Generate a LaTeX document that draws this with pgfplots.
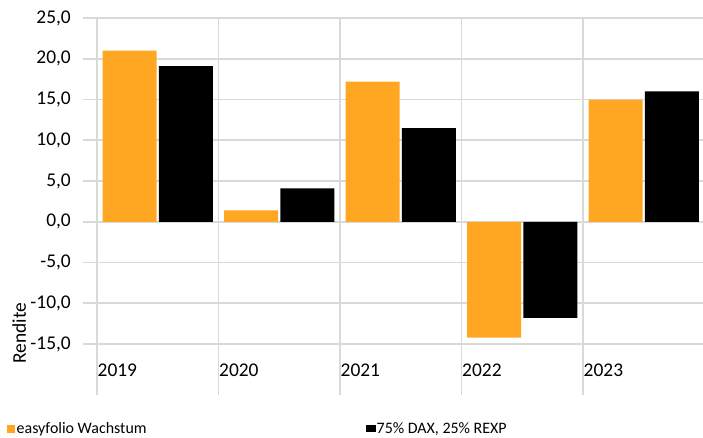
\documentclass[border=0pt]{standalone}
\usepackage{pgfplots}
\pgfplotsset{compat=1.18}
\usepackage{fontspec}
\setmainfont{Carlito}
\definecolor{orangeC}{RGB}{255,166,35}
\definecolor{gridC}{RGB}{217,217,217}
\begin{document}
\begin{tikzpicture}
\useasboundingbox (0,0) rectangle (703bp,438bp);
\begin{axis}[
 at={(83bp,43bp)}, anchor=south west,
 scale only axis, width=620.5bp, height=377bp,
 xmin=-0.1152, xmax=4.9918, ymin=-21.25, ymax=25,
 ytick={-15,-10,...,25},
 xtick={0,1,2,3,4}, xticklabels={2019,2020,2021,2022,2023},
 grid=major, major grid style={gridC, line width=1.6bp},
 axis line style={draw=none}, tick style={draw=none},
 ybar, bar width=0.444,
 /pgf/number format/assume math mode=true,
 /pgf/number format/.cd, fixed, fixed zerofill, precision=1, use comma,
 /pgfplots/.cd,
 ticklabel style={font=\fontsize{19.5}{23}\selectfont},
 yticklabel style={anchor=east, inner sep=0pt, xshift=-12bp},
 xticklabel style={anchor=west, inner sep=0pt, yshift=29bp, xshift=0.5bp},
 ylabel={Rendite},
 ylabel style={at={(axis description cs:-0.103,0.1645)}, anchor=center, font=\fontsize{19.5}{23}\selectfont},
 legend columns=2,
 legend style={at={(axis description cs:-0.1225,-0.089)}, anchor=west, draw=none, fill=none, inner sep=0pt,
   font=\fontsize{16}{19}\selectfont, nodes={inner sep=0pt},
   /tikz/every even column/.append style={column sep=0pt}},
 legend cell align=left,
]
\addplot[fill=orangeC, draw=none, bar shift=-0.232,
  legend image code/.code={\fill[orangeC] (0bp,-4bp) rectangle (8bp,4bp);}]
  coordinates {(0.5,21.0) (1.5,1.4) (2.5,17.2) (3.5,-14.2) (4.5,15.0)};
\addlegendentry{\hspace{1.5bp}\makebox[349bp][l]{easyfolio Wachstum}}
\addplot[fill=black, draw=none, bar shift=0.232,
  legend image code/.code={\fill[black] (0bp,-3.5bp) rectangle (10bp,3.5bp);}]
  coordinates {(0.5,19.1) (1.5,4.1) (2.5,11.5) (3.5,-11.8) (4.5,16.0)};
\addlegendentry{\hspace{1bp}75\% DAX, 25\% REXP}
\end{axis}
\end{tikzpicture}
\end{document}
